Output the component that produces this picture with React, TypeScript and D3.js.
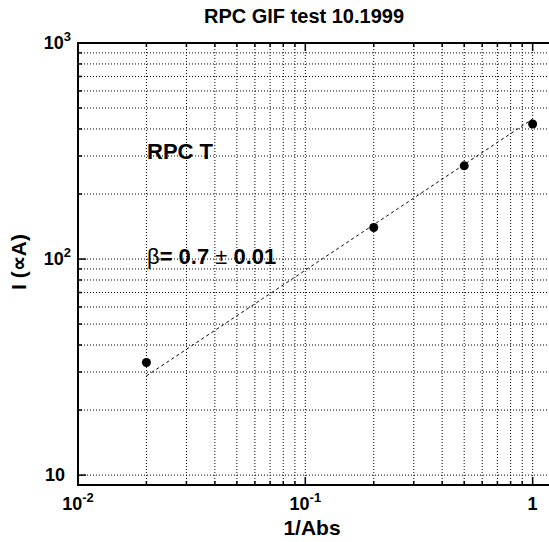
import React, { useEffect, useRef } from "react";
import * as d3 from "d3";

// Measured current vs. 1/absorption
const invAbs = [0.02, 0.2, 0.5, 1.0];
const current = [33.2, 140, 270, 422];

// Power-law fit I = A * x^beta
const fitBeta = 0.7;
const fitAmp = 445;
const fitRange = [0.02, 1.0];

const xMajorTicks = [0.01, 0.1, 1];
const yMajorTicks = [10, 100, 1000];

const W = 549;
const H = 542;
const FONT = "'Liberation Sans', Arial, Helvetica, sans-serif";

export default function App() {
  const ref = useRef<SVGSVGElement | null>(null);

  useEffect(() => {
    const svg = d3.select(ref.current);
    svg.selectAll("*").remove();

    const x = d3.scaleLog().domain([0.01, 1.28]).range([78, 557]);
    const y = d3.scaleLog().domain([9, 1000]).range([485, 43]);

    const [x0, x1] = x.range();
    const [yb, yt] = y.range();

    // minor + major grid values
    const xGrid: number[] = [];
    for (const d of [0.01, 0.1, 1]) for (let k = 1; k <= 9; k++) {
      const v = d * k;
      if (v > 0.01 && v <= 1.28) xGrid.push(v);
    }
    const yGrid: number[] = [];
    for (const d of [1, 10, 100]) for (let k = 1; k <= 9; k++) {
      const v = d * k;
      if (v >= 10 && v < 1000) yGrid.push(v);
    }
    yGrid.push(1000);

    const g = svg.append("g");

    // dotted grid
    g.selectAll(".vg").data(xGrid).enter().append("line")
      .attr("x1", (d) => x(d)).attr("x2", (d) => x(d))
      .attr("y1", yt).attr("y2", yb)
      .attr("stroke", "#000").attr("stroke-width", 1)
      .attr("stroke-dasharray", "1 2");
    g.selectAll(".hg").data(yGrid).enter().append("line")
      .attr("x1", x0).attr("x2", x1)
      .attr("y1", (d) => y(d)).attr("y2", (d) => y(d))
      .attr("stroke", "#000").attr("stroke-width", 1)
      .attr("stroke-dasharray", "1 2");

    // inward ticks
    const isMajor = (v: number) => Math.abs(Math.log10(v) - Math.round(Math.log10(v))) < 1e-9;
    xGrid.forEach((v) => {
      const len = isMajor(v) ? 8 : 4;
      g.append("line").attr("x1", x(v)).attr("x2", x(v)).attr("y1", yt).attr("y2", yt + len)
        .attr("stroke", "#000").attr("stroke-width", 1.5);
      g.append("line").attr("x1", x(v)).attr("x2", x(v)).attr("y1", yb).attr("y2", yb - len)
        .attr("stroke", "#000").attr("stroke-width", 1.5);
    });
    yGrid.forEach((v) => {
      const len = isMajor(v) ? 8 : 4;
      g.append("line").attr("x1", x0).attr("x2", x0 + len).attr("y1", y(v)).attr("y2", y(v))
        .attr("stroke", "#000").attr("stroke-width", 1.5);
    });

    // frame
    g.append("rect").attr("x", x0).attr("y", yt).attr("width", x1 - x0).attr("height", yb - yt)
      .attr("fill", "none").attr("stroke", "#000").attr("stroke-width", 2);

    // fit line
    const fitPts = d3.range(0, 21).map((i) => {
      const lx = Math.log10(fitRange[0]) + (i / 20) * (Math.log10(fitRange[1]) - Math.log10(fitRange[0]));
      const xv = Math.pow(10, lx);
      return [xv, fitAmp * Math.pow(xv, fitBeta)] as [number, number];
    });
    g.append("path")
      .attr("d", d3.line<[number, number]>().x((d) => x(d[0])).y((d) => y(d[1]))(fitPts) || "")
      .attr("fill", "none").attr("stroke", "#000").attr("stroke-width", 1)
      .attr("stroke-dasharray", "3 3");

    // data points
    g.selectAll(".pt").data(invAbs).enter().append("circle")
      .attr("cx", (d) => x(d)).attr("cy", (d, i) => y(current[i]))
      .attr("r", 4.5).attr("fill", "#000");

    // tick labels
    const xl = g.append("g").attr("font-family", FONT).attr("font-weight", "bold").attr("fill", "#000");
    xMajorTicks.forEach((v) => {
      const e = Math.round(Math.log10(v));
      const t = xl.append("text").attr("x", x(v)).attr("y", 510).attr("text-anchor", "middle")
        .attr("font-size", 18);
      if (e === 0) t.text("1");
      else {
        t.append("tspan").text("10");
        t.append("tspan").attr("dy", -8).attr("font-size", 13).text(String(e));
      }
    });
    yMajorTicks.forEach((v) => {
      const e = Math.round(Math.log10(v));
      const t = xl.append("text").attr("y", y(v) + 6).attr("text-anchor", "end")
        .attr("font-size", 18);
      if (e === 1) t.attr("x", 65).text("10");
      else {
        t.attr("x", 71);
        t.append("tspan").text("10");
        t.append("tspan").attr("dy", -8).attr("font-size", 13).text(String(e));
      }
    });

    // titles
    svg.append("text").attr("x", 304).attr("y", 23).attr("text-anchor", "middle")
      .attr("font-family", FONT).attr("font-weight", "bold").attr("font-size", 20)
      .text("RPC GIF test 10.1999");
    svg.append("text").attr("x", 312).attr("y", 535).attr("text-anchor", "middle")
      .attr("font-family", FONT).attr("font-weight", "bold").attr("font-size", 21)
      .text("1/Abs");
    svg.append("text").attr("transform", "translate(26,262) rotate(-90)").attr("text-anchor", "middle")
      .attr("font-family", FONT).attr("font-weight", "bold").attr("font-size", 21)
      .text("I (\u221DA)");

    // annotations
    svg.append("text").attr("x", 147).attr("y", 159)
      .attr("font-family", FONT).attr("font-weight", "bold").attr("font-size", 22)
      .text("RPC T");
    const b = svg.append("text").attr("x", 147).attr("y", 264)
      .attr("font-family", FONT).attr("font-size", 22);
    b.append("tspan").attr("font-weight", "normal").text("\u03B2");
    b.append("tspan").attr("font-weight", "bold").text("= 0.7 ");
    b.append("tspan").attr("font-weight", "normal").text("\u00B1");
    b.append("tspan").attr("font-weight", "bold").text(" 0.01");
  }, []);

  return (
    <svg ref={ref} width={W} height={H}
      style={{ position: "absolute", left: 0, top: 0, background: "#fff" }} />
  );
}
